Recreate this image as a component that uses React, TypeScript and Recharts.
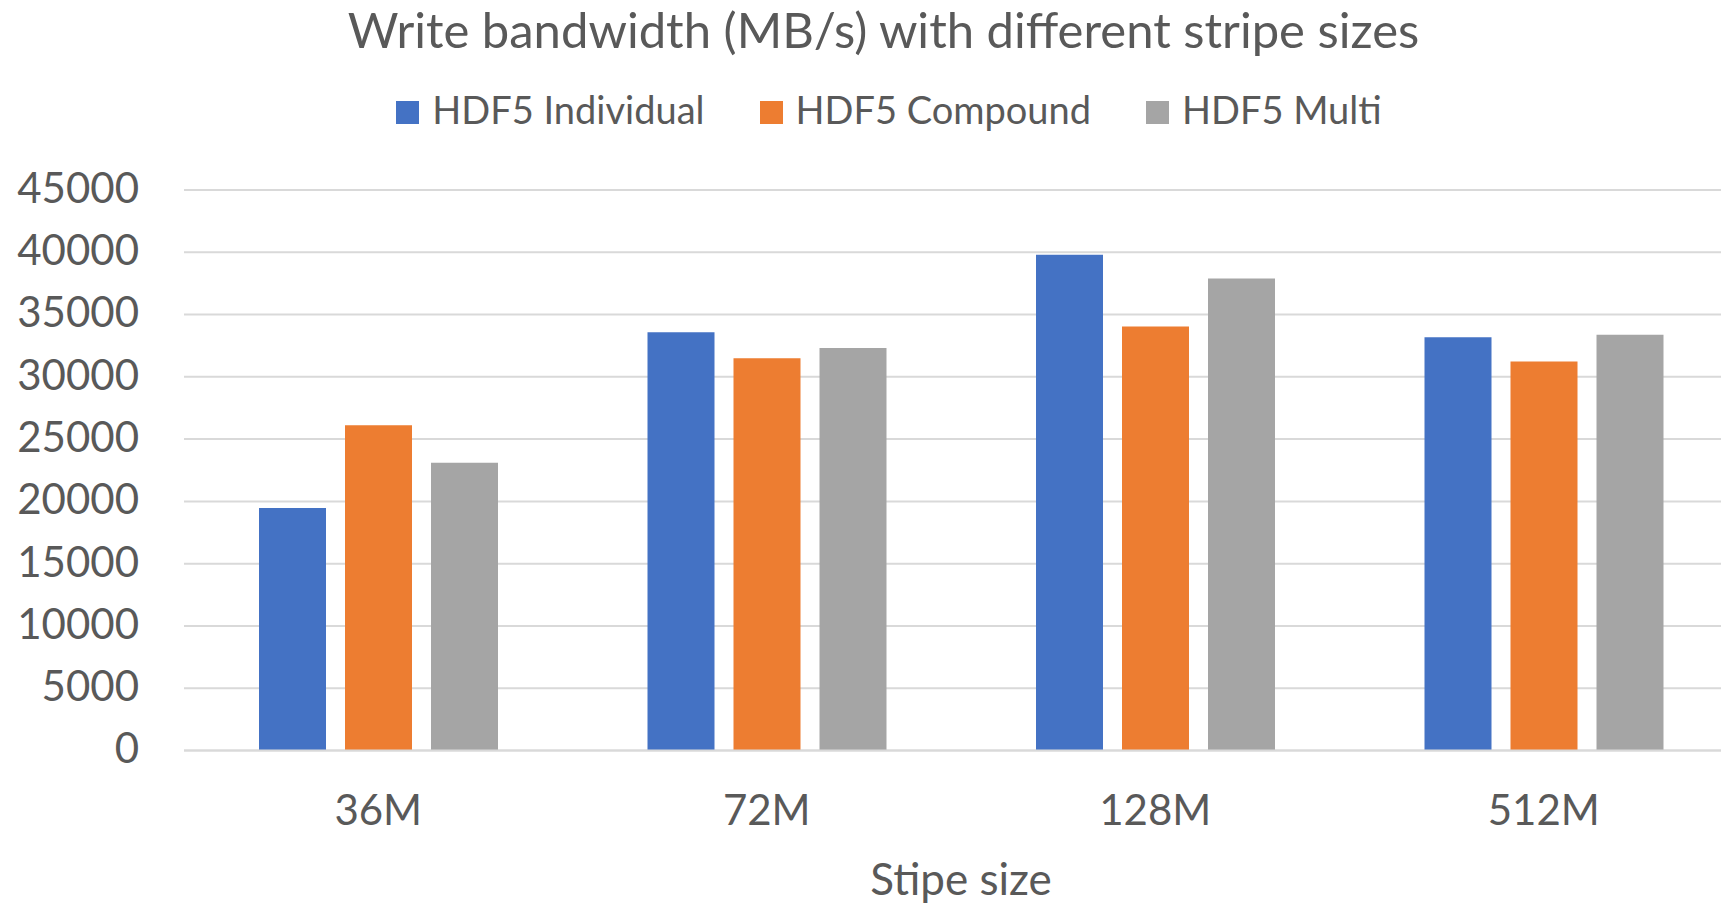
import React from 'react';
import { BarChart, Bar, XAxis, YAxis, CartesianGrid, Legend } from 'recharts';

const categories = ['36M', '72M', '128M', '512M'];
const individual = [19470, 33580, 39800, 33180];
const compound = [26110, 31490, 34040, 31230];
const multi = [23100, 32310, 37900, 33380];
const yTicks = [0, 5000, 10000, 15000, 20000, 25000, 30000, 35000, 40000, 45000];

const series = [
  { key: 'individual', name: 'HDF5 Individual', color: '#4472C4' },
  { key: 'compound', name: 'HDF5 Compound', color: '#ED7D31' },
  { key: 'multi', name: 'HDF5 Multi', color: '#A5A5A5' },
];

const data = categories.map((stripe, i) => ({
  stripe,
  individual: individual[i],
  compound: compound[i],
  multi: multi[i],
}));

const TEXT = '#595959';
const GRID = '#d9d9d9';
const FONT = 'Lato, "Open Sans", sans-serif';

const renderLegend = () => (
  <div style={{ display: 'flex', justifyContent: 'center', gap: 55 }}>
    {series.map((s) => (
      <div key={s.key} style={{ display: 'flex', alignItems: 'center', height: 38, lineHeight: '38px' }}>
        <span style={{ width: 23, height: 23, background: s.color, marginRight: 13, marginTop: 6 }} />
        <span style={{ fontSize: 38, color: TEXT }}>{s.name}</span>
      </div>
    ))}
  </div>
);

const AxisTitle = ({ viewBox }: any) => (
  <text
    x={viewBox.x + viewBox.width / 2}
    y={viewBox.y + 144}
    textAnchor="middle"
    fill={TEXT}
    fontSize={44}
  >
    Stipe size
  </text>
);

export default function App() {
  return (
    <div
      style={{
        position: 'absolute', left: 0, top: 0, width: 1721, height: 903,
        overflow: 'hidden', background: '#fff', fontFamily: FONT,
      }}
    >
      <div
        style={{
          position: 'absolute', left: 46, top: 0, width: 1675, textAlign: 'center',
          fontSize: 49, lineHeight: 'normal', color: TEXT, whiteSpace: 'nowrap',
        }}
      >
        Write bandwidth (MB/s) with different stripe sizes
      </div>
      <BarChart
        width={1760}
        height={903}
        data={data}
        margin={{ top: 190, right: 22, bottom: 0, left: 0 }}
        barSize={67}
        barGap={19}
      >
        <CartesianGrid vertical={false} stroke={GRID} strokeWidth={2} />
        <XAxis
          dataKey="stripe"
          height={152.5}
          tickLine={false}
          axisLine={{ stroke: GRID, strokeWidth: 2 }}
          tickSize={6}
          tickMargin={39}
          tick={{ fill: TEXT, fontSize: 42 }}
          label={<AxisTitle />}
        />
        <YAxis
          width={184}
          domain={[0, 45000]}
          ticks={yTicks}
          interval={0}
          tickLine={false}
          axisLine={false}
          tickSize={0}
          tickMargin={45}
          tick={{ fill: TEXT, fontSize: 42, dy: -2 }}
        />
        <Legend
          verticalAlign="middle"
          align="center"
          layout="horizontal"
          content={renderLegend}
          wrapperStyle={{ top: 90, left: 57, width: 1664 }}
        />
        {series.map((s) => (
          <Bar key={s.key} dataKey={s.key} name={s.name} fill={s.color} isAnimationActive={false} />
        ))}
      </BarChart>
    </div>
  );
}
